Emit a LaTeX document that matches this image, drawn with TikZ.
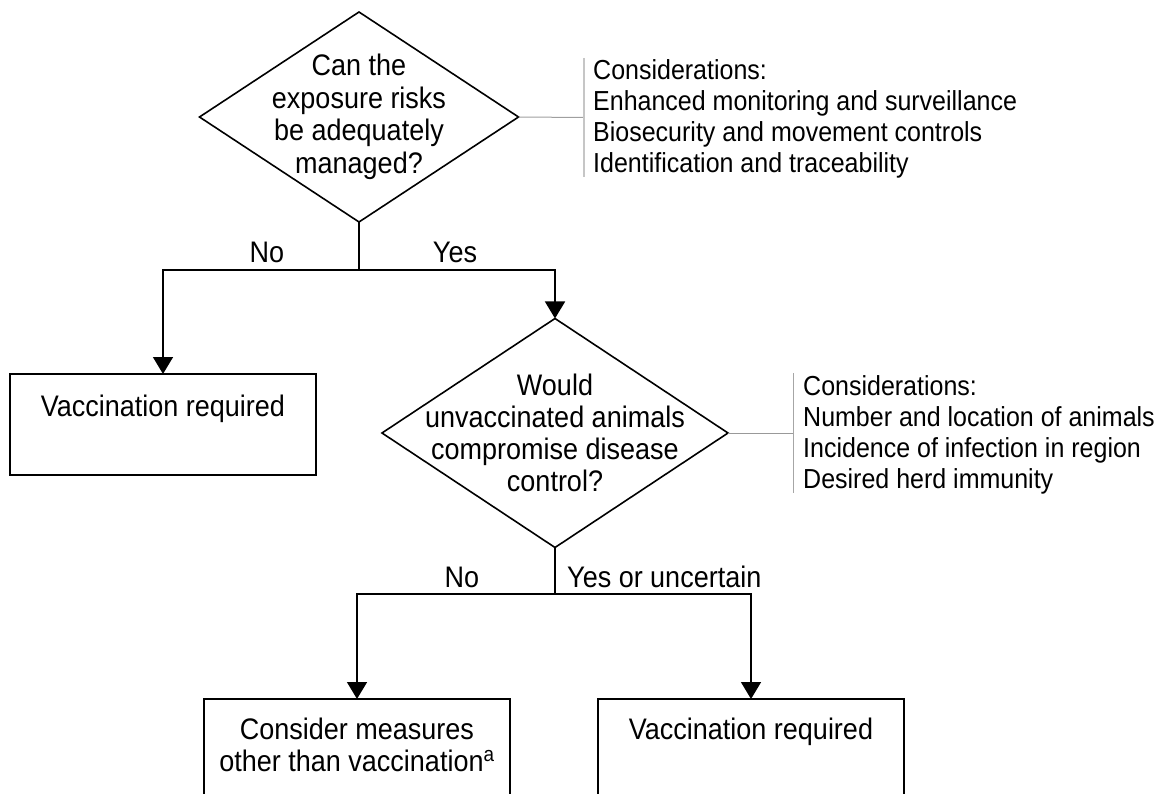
\documentclass[tikz,border=0pt]{standalone}
\usepackage{fontspec}
\usepackage{graphicx}
\setmainfont{Liberation Sans}
\usetikzlibrary{shapes.geometric,arrows.meta}
\newcommand{\vst}[1]{\scalebox{1}[1.1]{#1}}
\begin{document}
\begin{tikzpicture}[x=1pt,y=-1pt,
  flow/.style={line width=1.6pt,black},
  arr/.style={flow,-{Triangle[width=20pt,length=17pt]}},
  dia/.style={diamond,draw,line width=1.6pt,inner sep=0pt,outer sep=0pt},
  boxn/.style={draw,line width=1.6pt,minimum width=306pt,minimum height=101pt,inner sep=0pt,outer sep=0pt},
  qtext/.style={align=center,font=\fontsize{27}{32.5}\selectfont,inner sep=0pt},
  btext/.style={align=center,font=\fontsize{27}{32}\selectfont,inner sep=0pt,anchor=north},
  lbl/.style={font=\fontsize{27}{32}\selectfont,inner sep=0pt},
  cons/.style={align=left,anchor=west,font=\fontsize{25}{31}\selectfont,inner sep=0pt},
  gline/.style={line width=1pt,gray!75},
  gbar/.style={line width=1.5pt,gray!45}
]
\useasboundingbox (0,0) rectangle (1167,794);

% first decision
\node[dia,minimum width=319pt,minimum height=210pt] (d1) at (359,117) {};
\node[qtext] (t1) at (d1.center) {\vst{Can the}\\\vst{exposure risks}\\\vst{be adequately}\\\vst{managed?}};

\coordinate (c1) at (584,117.5);
\coordinate (c1t) at (584,58);
\coordinate (c1b) at (584,177);
\draw[gline] (d1.east) -- (c1);
\draw[gbar] (c1t) -- (c1b);
\node[cons] (k1) at (593,119) {\vst{Considerations:}\\\vst{Enhanced monitoring and surveillance}\\\vst{Biosecurity and movement controls}\\\vst{Identification and traceability}};

% first split
\coordinate (j1) at (359,270);
\node[boxn] (b1) at (163,424.5) {};
\node[btext] (bt1) at ([yshift=-21pt]b1.north) {\vst{Vaccination required}};
\node[dia,minimum width=346pt,minimum height=229pt] (d2) at (555,433) {};
\node[qtext,font=\fontsize{27}{32}\selectfont] (t2) at (d2.center) {\vst{Would}\\\vst{unvaccinated animals}\\\vst{compromise disease}\\\vst{control?}};

\draw[flow] (d1.south) -- (j1);
\draw[arr] (j1) -| (b1.north);
\draw[arr] (j1) -| (d2.north);
\node[lbl] (no1) at (267,252) {\vst{No}};
\node[lbl] (yes1) at (455,252) {\vst{Yes}};

% second considerations
\coordinate (c2) at (793,433);
\coordinate (c2t) at (793,373);
\coordinate (c2b) at (793,493);
\draw[gline,gray!80] (d2.east) -- (c2);
\draw[gline,gray!70] (c2t) -- (c2b);
\node[cons] (k2) at (803,435) {\vst{Considerations:}\\\vst{Number and location of animals}\\\vst{Incidence of infection in region}\\\vst{Desired herd immunity}};

% second split
\coordinate (j2) at (555,594);
\node[boxn] (b2) at (357,749.5) {};
\node[btext] (bt2) at ([yshift=-19pt]b2.north) {\vst{Consider measures}\\\vst{other than vaccination\textsuperscript{a}}};
\node[boxn] (b3) at (751,749.5) {};
\node[btext] (bt3) at ([yshift=-19pt]b3.north) {\vst{Vaccination required}};

\draw[flow] (d2.south) -- (j2);
\draw[arr] (j2) -| (b2.north);
\draw[arr] (j2) -| (b3.north);
\node[lbl] (no2) at (462,577) {\vst{No}};
\node[lbl,anchor=west] (yes2) at (567,577) {\vst{Yes or uncertain}};
\end{tikzpicture}
\end{document}
